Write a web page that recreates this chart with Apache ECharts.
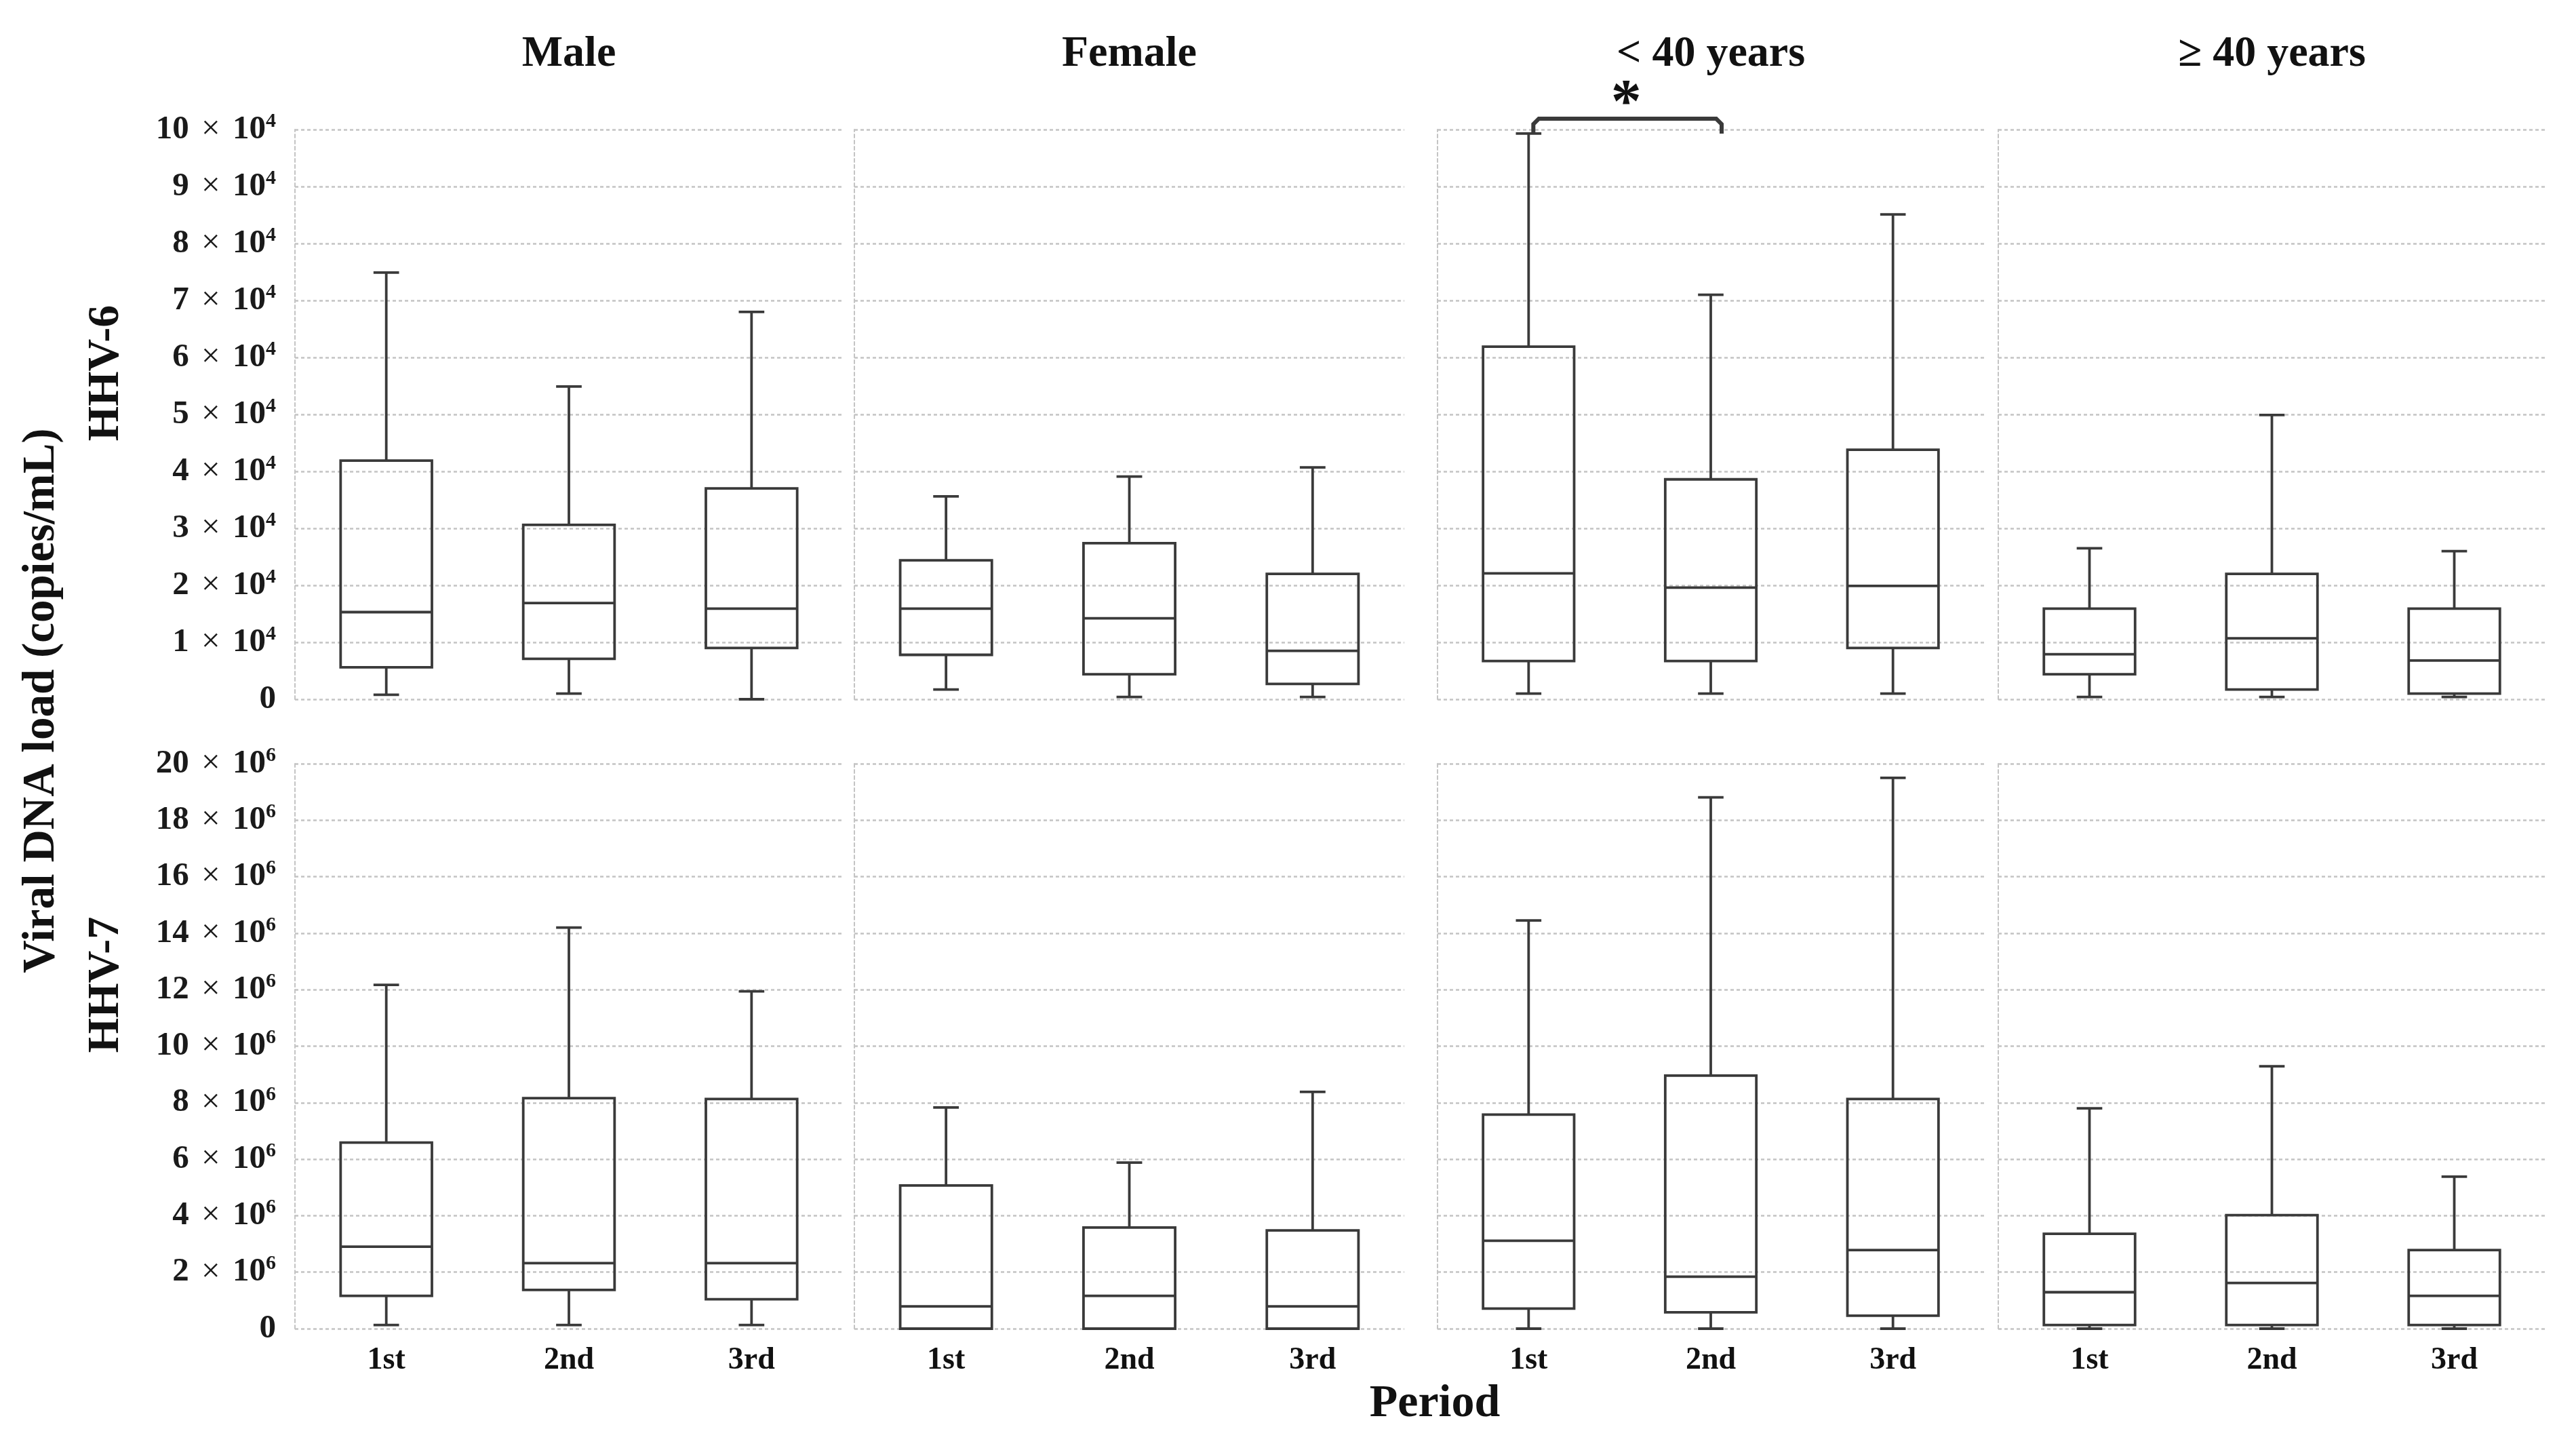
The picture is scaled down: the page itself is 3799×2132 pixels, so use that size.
<!DOCTYPE html>
<html>
<head>
<meta charset="utf-8">
<script src="https://cdn.jsdelivr.net/npm/echarts@6/dist/echarts.min.js"></script>
<style>
html,body{margin:0;padding:0;background:#fff;}
#chart{width:3799px;height:2132px;}
</style>
</head>
<body>
<div id="chart"></div>
<script>
// ---------- data ----------
const categories = ['1st', '2nd', '3rd'];
const panelTitles = ['Male', 'Female', '< 40 years', '≥ 40 years'];
const rowTitles = ['HHV-6', 'HHV-7'];

// HHV-6, units of 10^4 copies/mL : [min, Q1, median, Q3, max]
const hhv6Male    = [[0.08, 0.56, 1.53, 4.19, 7.49], [0.10, 0.71, 1.69, 3.06, 5.49], [0.00, 0.90, 1.59, 3.70, 6.80]];
const hhv6Female  = [[0.17, 0.78, 1.59, 2.44, 3.56], [0.04, 0.44, 1.42, 2.74, 3.91], [0.04, 0.27, 0.85, 2.20, 4.07]];
const hhv6Under40 = [[0.10, 0.67, 2.21, 6.19, 9.93], [0.10, 0.67, 1.96, 3.86, 7.10], [0.10, 0.90, 1.99, 4.38, 8.51]];
const hhv6Over40  = [[0.04, 0.44, 0.79, 1.59, 2.65], [0.04, 0.17, 1.07, 2.20, 4.99], [0.04, 0.10, 0.68, 1.59, 2.60]];

// HHV-7, units of 10^6 copies/mL : [min, Q1, median, Q3, max]
const hhv7Male    = [[0.13, 1.16, 2.90, 6.59, 12.17], [0.13, 1.37, 2.32, 8.16, 14.20], [0.13, 1.04, 2.32, 8.13, 11.94]];
const hhv7Female  = [[0.00, 0.00, 0.79, 5.07, 7.83], [0.00, 0.00, 1.16, 3.58, 5.88], [0.00, 0.00, 0.79, 3.48, 8.38]];
const hhv7Under40 = [[0.00, 0.71, 3.11, 7.58, 14.45], [0.00, 0.58, 1.84, 8.96, 18.81], [0.00, 0.46, 2.78, 8.13, 19.50]];
const hhv7Over40  = [[0.00, 0.13, 1.29, 3.36, 7.80], [0.00, 0.13, 1.62, 4.02, 9.29], [0.00, 0.13, 1.16, 2.78, 5.38]];

// y axis ticks (mantissa shown as "m × 10^e")
const hhv6TickMax = 10, hhv6TickStep = 1, hhv6Exponent = '4';
const hhv7TickMax = 20, hhv7TickStep = 2, hhv7Exponent = '6';

// significance bracket (<40 years, HHV-6, 1st vs 2nd)
const sigBracket = { from: 0, to: 1, level: 10.19, hook: 9.93, label: '*' };

// ---------- layout ----------
const cols = [{left: 435, width: 808}, {left: 1260, width: 811}, {left: 2120, width: 806}, {left: 2947, width: 807}];
const rows = [{top: 191, height: 840}, {top: 1126, height: 833}];
const serif = '"Liberation Serif", "Times New Roman", serif';
const gridColor = '#c4c4c4';
const boxColor = '#3a3a3a';

const rowData = [
  [hhv6Male, hhv6Female, hhv6Under40, hhv6Over40],
  [hhv7Male, hhv7Female, hhv7Under40, hhv7Over40]
];
const rowAxis = [
  {max: hhv6TickMax, step: hhv6TickStep, exp: hhv6Exponent},
  {max: hhv7TickMax, step: hhv7TickStep, exp: hhv7Exponent}
];

function renderBox(params, api) {
  const x = api.value(0);
  const pMin = api.coord([x, api.value(1)]);
  const pQ1 = api.coord([x, api.value(2)]);
  const pMed = api.coord([x, api.value(3)]);
  const pQ3 = api.coord([x, api.value(4)]);
  const pMax = api.coord([x, api.value(5)]);
  const band = api.size([1, 0])[0];
  const hw = band * 0.25;
  const cw = band * 0.07;
  const cx = pMed[0];
  const st = {stroke: boxColor, lineWidth: 3.8, fill: null};
  return {
    type: 'group',
    children: [
      {type: 'line', shape: {x1: cx, y1: pMax[1], x2: cx, y2: pQ3[1]}, style: st},
      {type: 'line', shape: {x1: cx - cw, y1: pMax[1], x2: cx + cw, y2: pMax[1]}, style: st},
      {type: 'line', shape: {x1: cx, y1: pQ1[1], x2: cx, y2: pMin[1]}, style: st},
      {type: 'line', shape: {x1: cx - cw, y1: pMin[1], x2: cx + cw, y2: pMin[1]}, style: st},
      {type: 'rect', shape: {x: cx - hw, y: pQ3[1], width: 2 * hw, height: pQ1[1] - pQ3[1]}, style: st},
      {type: 'line', shape: {x1: cx - hw, y1: pMed[1], x2: cx + hw, y2: pMed[1]}, style: st}
    ]
  };
}

function renderBracket(params, api) {
  const a = api.coord([api.value(0), api.value(2)]);
  const b = api.coord([api.value(1), api.value(2)]);
  const h = api.coord([api.value(0), api.value(3)]);
  const ax = a[0] + 7, bx = b[0] + 16;
  const r = 8;
  return {
    type: 'group',
    children: [
      {type: 'polyline', shape: {points: [[ax, h[1]], [ax, a[1] + r], [ax + r, a[1]], [bx - r, b[1]], [bx, b[1] + r], [bx, h[1]]]},
        style: {stroke: boxColor, lineWidth: 6, fill: null}},
      {type: 'text', x: (ax + bx) / 2 - 2, y: a[1] - 19,
        style: {text: sigBracket.label, font: 'bold 90px ' + serif, fill: '#111', textAlign: 'center', textVerticalAlign: 'middle'}}
    ]
  };
}

const grids = [], xAxes = [], yAxes = [], series = [];
rows.forEach((row, ri) => {
  cols.forEach((col, ci) => {
    const idx = grids.length;
    grids.push({left: col.left, top: row.top, width: col.width, height: row.height, containLabel: false});
    xAxes.push({
      type: 'category', gridIndex: idx, data: categories,
      axisLine: {show: false}, axisTick: {show: false}, splitLine: {show: false},
      axisLabel: {show: ri === 1, margin: 24, color: '#111', fontFamily: serif, fontWeight: 'bold', fontSize: 46}
    });
    const ax = rowAxis[ri];
    yAxes.push({
      type: 'value', gridIndex: idx, min: 0, max: ax.max, interval: ax.step,
      axisLine: {show: true, lineStyle: {color: gridColor, width: 2, type: [5, 4]}},
      axisTick: {show: false},
      splitLine: {show: true, lineStyle: {color: gridColor, width: 2.5, type: [5, 4]}},
      axisLabel: {
        show: ci === 0, margin: 28, color: '#111',
        formatter: v => v === 0 ? '{n|0}' : '{n|' + v + ' }{x|×}{n| 10}{s|' + ax.exp + '}',
        rich: {
          n: {fontFamily: serif, fontSize: 49, fontWeight: 'bold', color: '#1a1a1a', lineHeight: 54},
          x: {fontFamily: serif, fontSize: 49, color: '#1a1a1a', lineHeight: 54, padding: [0, 6]},
          s: {fontFamily: serif, fontSize: 30, fontWeight: 'bold', color: '#1a1a1a', verticalAlign: 'top', lineHeight: 32}
        }
      }
    });
    series.push({
      type: 'custom', xAxisIndex: idx, yAxisIndex: idx,
      data: rowData[ri][ci].map((d, k) => [k].concat(d)),
      encode: {x: 0, y: [1, 2, 3, 4, 5]},
      renderItem: renderBox, clip: false, silent: true
    });
    if (ri === 0 && ci === 2) {
      series.push({
        type: 'custom', xAxisIndex: idx, yAxisIndex: idx,
        data: [[sigBracket.from, sigBracket.to, sigBracket.level, sigBracket.hook]],
        encode: {x: [0, 1], y: [2, 3]},
        renderItem: renderBracket, clip: false, silent: true
      });
    }
  });
});

const graphics = [];
cols.forEach((col, ci) => {
  graphics.push({type: 'text', x: col.left + col.width / 2, y: 80,
    style: {text: panelTitles[ci], font: 'bold 64px ' + serif, fill: '#111', textAlign: 'center', textVerticalAlign: 'middle'}});
});
graphics.push({type: 'text', x: 157, y: 550, rotation: Math.PI / 2,
  style: {text: rowTitles[0], font: 'bold 66px ' + serif, fill: '#111', textAlign: 'center', textVerticalAlign: 'middle'}});
graphics.push({type: 'text', x: 157, y: 1452, rotation: Math.PI / 2,
  style: {text: rowTitles[1], font: 'bold 66px ' + serif, fill: '#111', textAlign: 'center', textVerticalAlign: 'middle'}});
graphics.push({type: 'text', x: 62, y: 1033, rotation: Math.PI / 2,
  style: {text: 'Viral DNA load (copies/mL)', font: 'bold 67px ' + serif, fill: '#111', textAlign: 'center', textVerticalAlign: 'middle'}});
graphics.push({type: 'text', x: 2116, y: 2070,
  style: {text: 'Period', font: 'bold 68px ' + serif, fill: '#111', textAlign: 'center', textVerticalAlign: 'middle'}});

const chart = echarts.init(document.getElementById('chart'), null, {renderer: 'canvas'});
chart.setOption({
  backgroundColor: '#ffffff',
  animation: false,
  grid: grids, xAxis: xAxes, yAxis: yAxes, series: series,
  graphic: graphics
});
</script>
</body>
</html>
